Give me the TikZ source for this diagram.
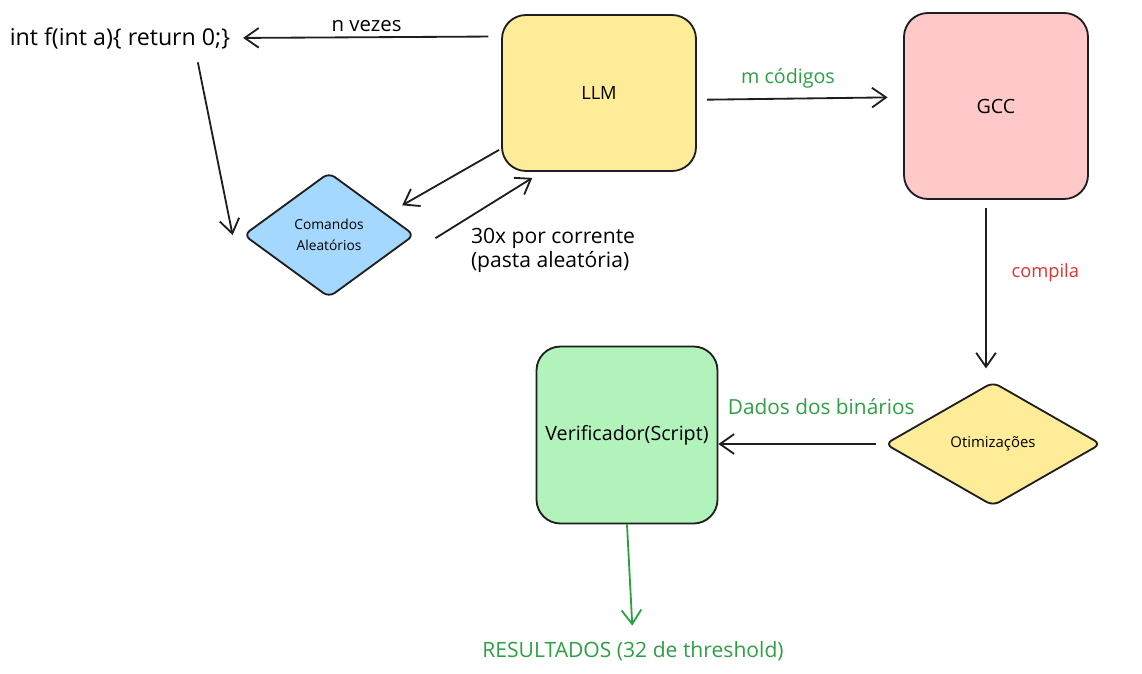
\documentclass[tikz,border=0pt]{standalone}
\usepackage{fontspec}
\setmainfont{Open Sans}
\usepackage{tikz}
\usetikzlibrary{arrows.meta,shapes.geometric,positioning}
\definecolor{traco}{HTML}{1E1E1E}
\definecolor{amarelo}{HTML}{FFEC99}
\definecolor{rosa}{HTML}{FFC9C9}
\definecolor{azul}{HTML}{A5D8FF}
\definecolor{verde}{HTML}{B2F2BB}
\definecolor{verdetxt}{HTML}{2F9E44}
\definecolor{vermelho}{HTML}{E03131}
\tikzset{
	caixa/.style = {draw=traco, line width=1.3pt, rounded corners=0.6cm,
		align=center, inner sep=0pt},% caixa arredondada
	losango/.style = {diamond, draw=traco, line width=1.3pt,
		rounded corners=5pt, inner sep=0pt, align=center},% losango
	rotulo/.style = {align=left, inner sep=1pt},% texto solto
	aresta/.style = {draw=traco, line width=1.3pt}% conector
}

\begin{document}
\begin{tikzpicture}[->,>={Straight Barb[length=10pt,width=14pt]}]
\useasboundingbox (0,0) rectangle (28.55,-16.825);
% caixas
\node [caixa, fill=amarelo, minimum width=4.85cm, minimum height=3.9cm,
	font=\fontsize{13}{15}\selectfont] (llm) at (14.975,-2.325) {LLM};
\node [caixa, fill=rosa, minimum width=4.6cm, minimum height=4.65cm,
	font=\fontsize{14}{16}\selectfont] (gcc) at (24.9,-2.65) {GCC};
\node [caixa, fill=verde, minimum width=4.525cm, minimum height=4.425cm,
	font=\fontsize{14}{16}\selectfont] (verif) at (15.675,-10.875) {Verificador(Script)};
\node [losango, fill=azul, minimum width=4.275cm, minimum height=3.125cm,
	font=\fontsize{9.8}{15}\selectfont] (cmd) at (8.225,-5.875) {Comandos\\Aleatórios};
\node [losango, fill=amarelo, minimum width=5.4cm, minimum height=3.1cm,
	font=\fontsize{10.6}{12}\selectfont] (otim) at (24.825,-11.1) {Otimizações};
% textos soltos
\node [rotulo, font=\fontsize{16.5}{18}\selectfont] (code) at (3.0,-0.95) {int f(int a)\{ return 0;\}};
\node [rotulo, font=\fontsize{15}{17}\selectfont, text=verdetxt] (res) at (15.825,-16.275) {RESULTADOS (32 de threshold)};
\node [rotulo, font=\fontsize{15}{17}\selectfont] (lbl30) at (13.825,-6.25) {30x por corrente\\(pasta aleatória)};
% conectores
\draw [aresta, shorten <=9pt, shorten >=8pt] (llm.150) -- (code.east)
	node [midway, above, font=\fontsize{14.5}{16}\selectfont] {n vezes};
\draw [aresta] ([xshift=-0.85cm,yshift=-0.3cm]code.south east) -- ([xshift=-0.25cm]cmd.west);
\draw [aresta] ([xshift=-0.05cm,yshift=0.55cm]llm.south west) -- ([xshift=0.75cm,yshift=-0.05cm]cmd.north east);
\draw [aresta] ([xshift=0.5cm,yshift=-0.08cm]cmd.east) -- ([xshift=0.78cm,yshift=-0.15cm]llm.south west);
\draw [aresta, shorten <=7pt, shorten >=11pt] ([yshift=-0.17cm]llm.east) -- ([yshift=0.22cm]gcc.west)
	node [midway, above=3pt, xshift=-0.3cm, text=verdetxt, font=\fontsize{14}{16}\selectfont] {m códigos};
\draw [aresta, shorten <=6pt, shorten >=9pt] ([xshift=-0.25cm]gcc.south) -- ([xshift=-0.25cm]gcc.south |- otim.north)
	node [pos=0.4, right=0.5cm, text=vermelho, font=\fontsize{13}{15}\selectfont] {compila};
\draw [aresta, shorten <=6pt] (otim.west) -- (otim.west -| verif.east)
	node [midway, above=0.6cm, xshift=0.5cm, text=verdetxt, font=\fontsize{14.8}{17}\selectfont] {Dados dos binários};
\draw [aresta, draw=verdetxt, shorten >=10pt] (verif.south) -- (res.north);
\end{tikzpicture}
\end{document}
